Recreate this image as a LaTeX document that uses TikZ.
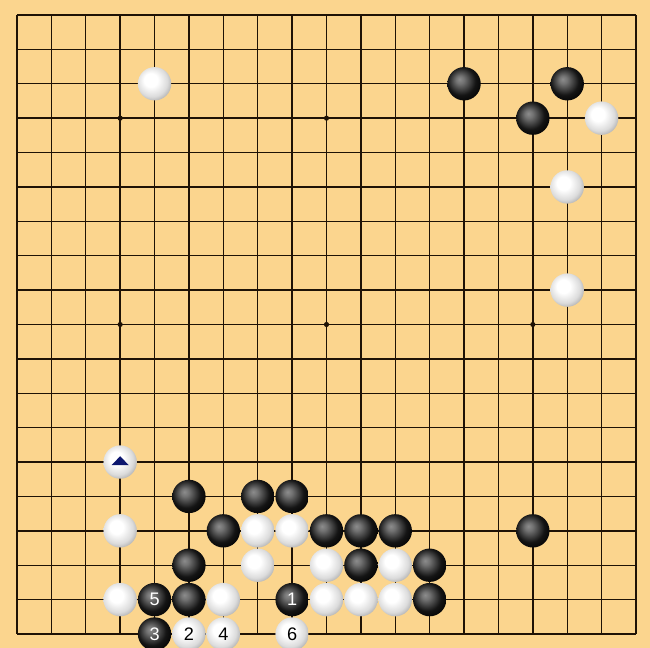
\documentclass[tikz,border=0pt]{standalone}
\usepackage{fontspec}
\setsansfont{Liberation Sans}
\usepackage{xcolor}
\usepackage{tikz}

\definecolor{boardwood}{RGB}{251,213,142}
\definecolor{gridline}{RGB}{30,18,5}
\definecolor{marknavy}{RGB}{12,22,110}

% stone shadings, light from upper left
\pgfdeclareradialshading{blackball}{\pgfpoint{-7bp}{7bp}}{color(0bp)=(black!45); color(6bp)=(black!55); color(21bp)=(black!92); color(32bp)=(black); color(50bp)=(black)}
\pgfdeclareradialshading{whiteball}{\pgfpoint{-7bp}{7bp}}{color(0bp)=(white); color(10bp)=(white); color(23bp)=(black!14); color(32bp)=(black!36); color(50bp)=(black!42)}

\tikzset{
    bstone/.style={circle, inner sep=0pt, minimum size=0.97cm, shading=blackball, text=white, font=\sffamily\fontsize{15}{15}\selectfont},
    wstone/.style={circle, inner sep=0pt, minimum size=0.97cm, shading=whiteball, text=black, font=\sffamily\fontsize{15}{15}\selectfont},
    boardline/.style={gridline, line width=1.15pt}
}

\begin{document}
\begin{tikzpicture}[x=1cm, y=-1cm]
    % Board
    \useasboundingbox (-0.494,-0.436) rectangle (18.407,18.407);
    \fill[boardwood] (-0.494,-0.436) rectangle (18.407,18.407);
    \foreach \i in {0,...,18} {
        \draw[boardline] (\i,0) -- (\i,18);
        \draw[boardline] (0,\i) -- (18,\i);
    }
    % Star points
    \foreach \c in {3,9,15}
        \foreach \r in {3,9,15}
            \fill[gridline] (\c,\r) circle (0.075);

    % Black stones
    \foreach \c/\r in {13/2, 16/2, 15/3, 5/14, 7/14, 8/14, 6/15, 9/15, 10/15, 11/15, 15/15, 5/16, 10/16, 12/16, 5/17, 12/17}
        \node[bstone] (b-\c-\r) at (\c,\r) {};

    % White stones
    \foreach \c/\r in {4/2, 17/3, 16/5, 16/8, 3/15, 7/15, 8/15, 7/16, 9/16, 11/16, 3/17, 6/17, 9/17, 10/17, 11/17}
        \node[wstone] (w-\c-\r) at (\c,\r) {};

    % Last move marker
    \node[wstone] (tri) at (3,13) {};
    \fill[marknavy] (tri.center) ++(-0.25,0.09) -- ++(0.5,0) -- ++(-0.25,-0.26) -- cycle;

    % Numbered moves
    \node[bstone] (m1) at (8,17) {1};
    \node[wstone] (m2) at (5,18) {2};
    \node[bstone] (m3) at (4,18) {3};
    \node[wstone] (m4) at (6,18) {4};
    \node[bstone] (m5) at (4,17) {5};
    \node[wstone] (m6) at (8,18) {6};
\end{tikzpicture}
\end{document}
